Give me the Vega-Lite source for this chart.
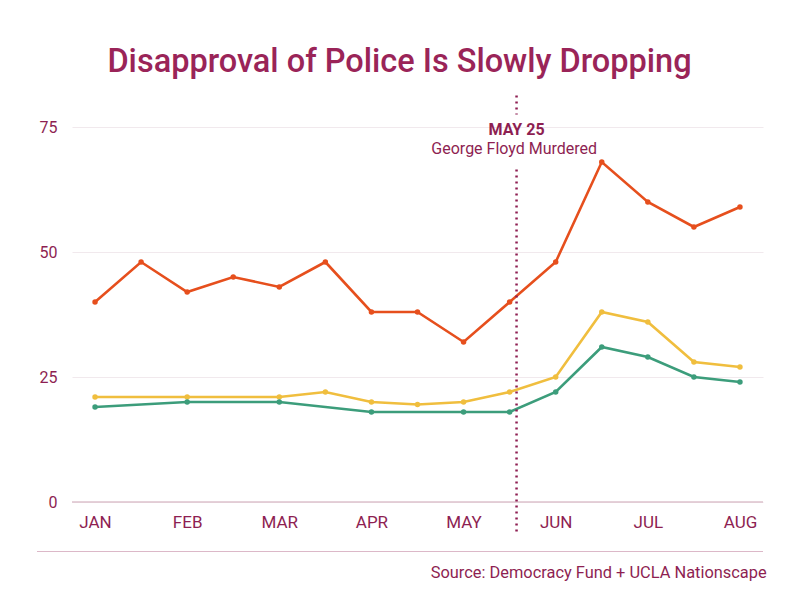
{
  "$schema": "https://vega.github.io/schema/vega-lite/v6.json",
  "autosize": {"type": "none"},
  "width": 691,
  "height": 375,
  "padding": {"left": 72, "top": 127, "right": 37, "bottom": 98},
  "background": "white",
  "title": {
    "text": "Disapproval of Police Is Slowly Dropping",
    "anchor": "middle",
    "frame": "group",
    "dx": -18,
    "offset": 16,
    "font": "Roboto",
    "fontSize": 32.5,
    "fontWeight": 500,
    "color": "#9a2458"
  },
  "config": {
    "view": {"stroke": null},
    "font": "Roboto"
  },
  "datasets": {
    "survey": [
      {"period": 0, "series": "A", "value": 40},
      {"period": 1, "series": "A", "value": 48},
      {"period": 2, "series": "A", "value": 42},
      {"period": 3, "series": "A", "value": 45},
      {"period": 4, "series": "A", "value": 43},
      {"period": 5, "series": "A", "value": 48},
      {"period": 6, "series": "A", "value": 38},
      {"period": 7, "series": "A", "value": 38},
      {"period": 8, "series": "A", "value": 32},
      {"period": 9, "series": "A", "value": 40},
      {"period": 10, "series": "A", "value": 48},
      {"period": 11, "series": "A", "value": 68},
      {"period": 12, "series": "A", "value": 60},
      {"period": 13, "series": "A", "value": 55},
      {"period": 14, "series": "A", "value": 59},
      {"period": 0, "series": "B", "value": 21},
      {"period": 2, "series": "B", "value": 21},
      {"period": 4, "series": "B", "value": 21},
      {"period": 5, "series": "B", "value": 22},
      {"period": 6, "series": "B", "value": 20},
      {"period": 7, "series": "B", "value": 19.5},
      {"period": 8, "series": "B", "value": 20},
      {"period": 9, "series": "B", "value": 22},
      {"period": 10, "series": "B", "value": 25},
      {"period": 11, "series": "B", "value": 38},
      {"period": 12, "series": "B", "value": 36},
      {"period": 13, "series": "B", "value": 28},
      {"period": 14, "series": "B", "value": 27},
      {"period": 0, "series": "C", "value": 19},
      {"period": 2, "series": "C", "value": 20},
      {"period": 4, "series": "C", "value": 20},
      {"period": 6, "series": "C", "value": 18},
      {"period": 8, "series": "C", "value": 18},
      {"period": 9, "series": "C", "value": 18},
      {"period": 10, "series": "C", "value": 22},
      {"period": 11, "series": "C", "value": 31},
      {"period": 12, "series": "C", "value": 29},
      {"period": 13, "series": "C", "value": 25},
      {"period": 14, "series": "C", "value": 24}
    ],
    "single": [{}]
  },
  "layer": [
    {
      "data": {"name": "survey"},
      "mark": {
        "type": "line",
        "strokeWidth": 2.6,
        "point": {"filled": true, "size": 30}
      },
      "encoding": {
        "x": {
          "field": "period",
          "type": "quantitative",
          "scale": {"domain": [-0.5, 14.5], "nice": false, "zero": false},
          "axis": {
            "title": null,
            "values": [0, 2, 4, 6, 8, 10, 12, 14],
            "labelExpr": "['JAN','FEB','MAR','APR','MAY','JUN','JUL','AUG'][datum.value / 2]",
            "domain": false,
            "ticks": false,
            "grid": false,
            "labelFontSize": 17,
            "labelColor": "#8e1f52",
            "labelPadding": 12,
            "labelFlush": false
          }
        },
        "y": {
          "field": "value",
          "type": "quantitative",
          "scale": {"domain": [0, 75], "nice": false},
          "axis": {
            "title": null,
            "values": [0, 25, 50, 75],
            "domain": false,
            "ticks": false,
            "gridColor": "#f1e9ed",
            "gridWidth": 1.2,
            "labelFontSize": 16,
            "labelColor": "#8e1f52",
            "labelPadding": 15
          }
        },
        "color": {
          "field": "series",
          "type": "nominal",
          "scale": {"domain": ["A", "B", "C"], "range": ["#e64f1d", "#f0be3e", "#3c9d7b"]},
          "legend": null
        }
      }
    },
    {
      "data": {"name": "single"},
      "mark": {"type": "rule", "color": "#dcc2cd", "strokeWidth": 1.5},
      "encoding": {"y": {"datum": 0}}
    },
    {
      "data": {"name": "single"},
      "mark": {"type": "rule", "color": "#8e1f52", "strokeWidth": 2.5, "strokeDash": [2, 4]},
      "encoding": {
        "x": {"datum": 9.15},
        "y": {"datum": 81.3},
        "y2": {"datum": 77.5}
      }
    },
    {
      "data": {"name": "single"},
      "mark": {"type": "rule", "color": "#8e1f52", "strokeWidth": 2.5, "strokeDash": [2, 4]},
      "encoding": {
        "x": {"datum": 9.15},
        "y": {"datum": 66.5},
        "y2": {"datum": -6.5}
      }
    },
    {
      "data": {"name": "single"},
      "mark": {"type": "text", "text": "MAY 25", "fontSize": 16, "fontWeight": "bold", "color": "#8e1f52", "baseline": "middle", "align": "center"},
      "encoding": {"x": {"datum": 9.15}, "y": {"datum": 74.4}}
    },
    {
      "data": {"name": "single"},
      "mark": {"type": "text", "text": "George Floyd Murdered", "fontSize": 16, "color": "#8e1f52", "baseline": "middle", "align": "center"},
      "encoding": {"x": {"datum": 9.1}, "y": {"datum": 70.6}}
    },
    {
      "data": {"name": "single"},
      "mark": {"type": "rule", "color": "#dcb8c8", "strokeWidth": 1.2},
      "encoding": {
        "x": {"datum": -1.26},
        "x2": {"datum": 14.5},
        "y": {"datum": -9.9}
      }
    },
    {
      "data": {"name": "single"},
      "mark": {"type": "text", "text": "Source: Democracy Fund + UCLA Nationscape", "fontSize": 16.4, "color": "#8e1f52", "baseline": "middle", "align": "right"},
      "encoding": {"x": {"datum": 14.58}, "y": {"datum": -14.1}}
    }
  ]
}
